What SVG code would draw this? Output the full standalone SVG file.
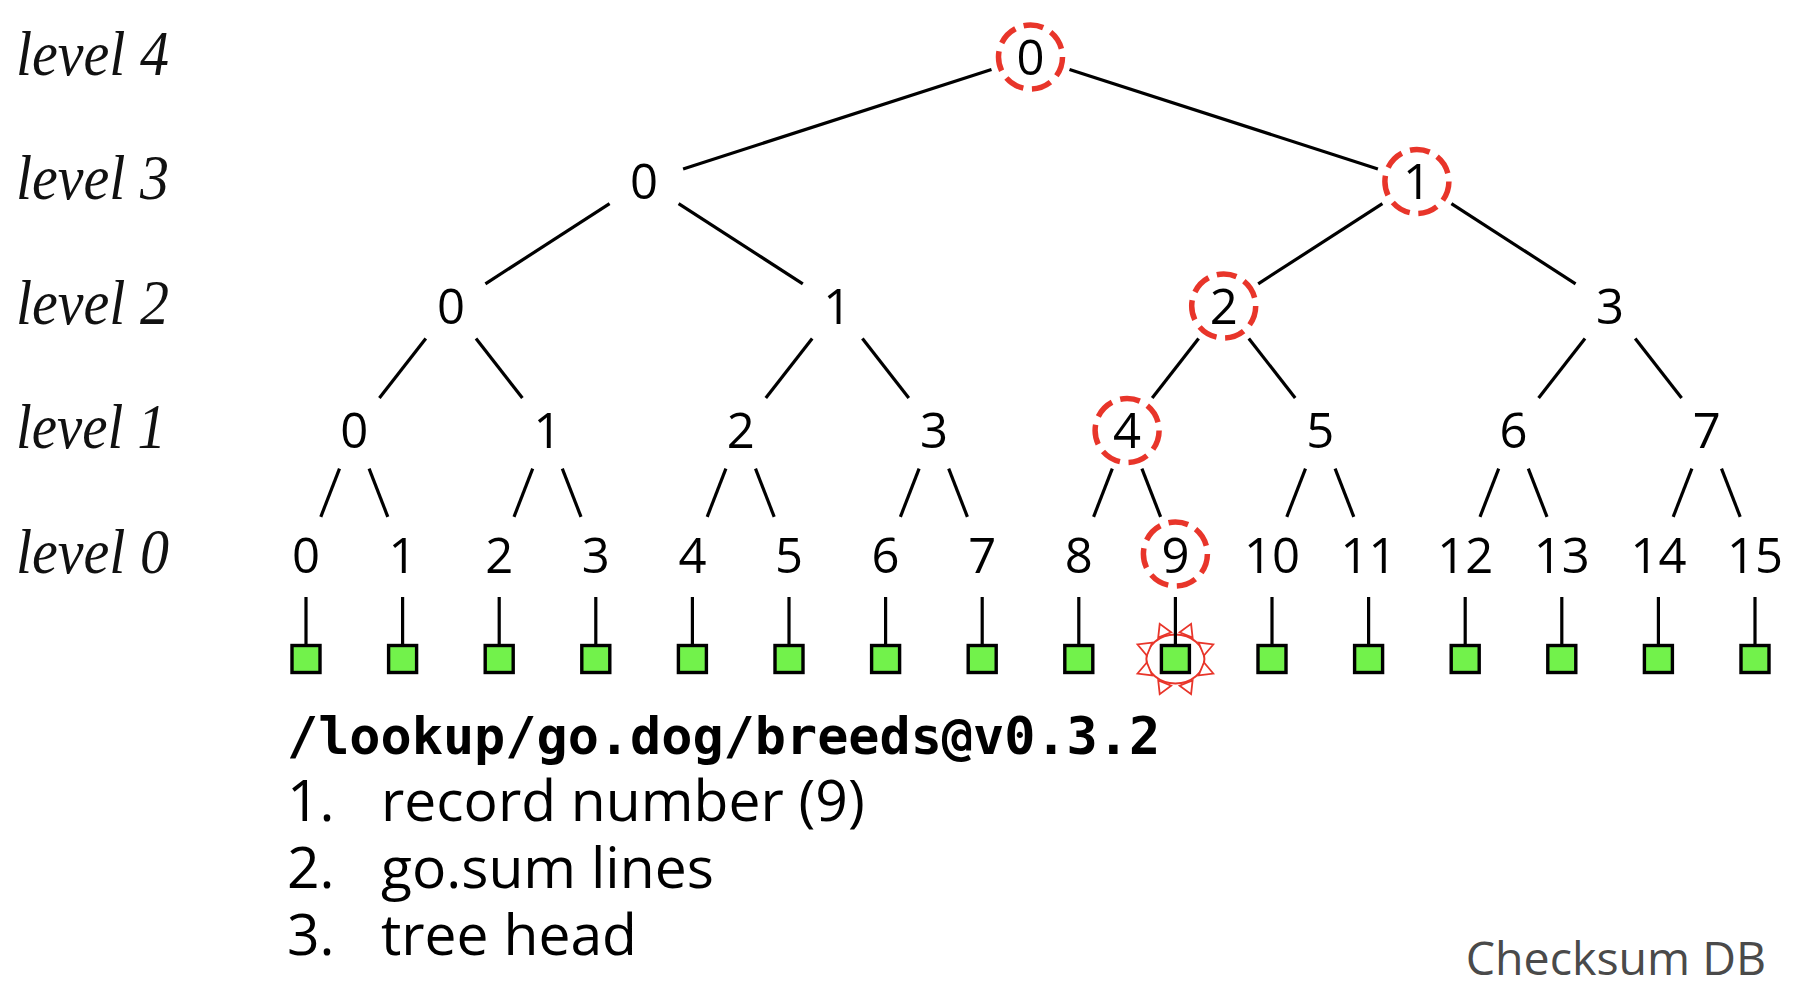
<svg xmlns="http://www.w3.org/2000/svg" width="1820" height="986" viewBox="0 0 1820 986">
<style>
.num{font-family:"Open Sans","Noto Sans",sans-serif;font-size:49px;text-anchor:middle;fill:#000}
.lvl{font-family:"Liberation Serif",serif;font-style:italic;font-size:63px;fill:#111}
.edge{stroke:#000;stroke-width:3.2;fill:none}
.hl{fill:none;stroke:#E8352A;stroke-width:5.5;stroke-dasharray:20 8.72}
.leaf{fill:#72F24B;stroke:#000;stroke-width:3.4}
.ray{fill:#fff;stroke:#E8352A;stroke-width:1.8;stroke-linejoin:miter}
.list{font-family:"Open Sans","Noto Sans",sans-serif;font-size:57px;fill:#000}
.mono{font-family:"DejaVu Sans Mono","Liberation Mono",monospace;font-weight:bold;font-size:51.8px;fill:#000}
</style>
<rect width="1820" height="986" fill="#fff"/>

<g id="level-labels">
<text class="lvl" x="16" y="74.5" textLength="153" lengthAdjust="spacingAndGlyphs">level 4</text>
<text class="lvl" x="16" y="199" textLength="153" lengthAdjust="spacingAndGlyphs">level 3</text>
<text class="lvl" x="16" y="323.5" textLength="153" lengthAdjust="spacingAndGlyphs">level 2</text>
<text class="lvl" x="16" y="448" textLength="150" lengthAdjust="spacingAndGlyphs">level 1</text>
<text class="lvl" x="16" y="572.5" textLength="153" lengthAdjust="spacingAndGlyphs">level 0</text>
</g>

<g id="sun-marker">
<ellipse cx="1175.4" cy="659" rx="29" ry="24.5" fill="none" stroke="#E8352A" stroke-width="2"/>
<polygon class="ray" points="1171.15,632.30 1159.71,623.89 1158.21,637.66"/>
<polygon class="ray" points="1192.59,637.66 1191.09,623.89 1179.65,632.30"/>
<polygon class="ray" points="1203.95,655.52 1213.28,644.46 1198.59,642.58"/>
<polygon class="ray" points="1198.59,675.42 1213.28,673.54 1203.95,662.48"/>
<polygon class="ray" points="1179.65,685.70 1191.09,694.11 1192.59,680.34"/>
<polygon class="ray" points="1158.21,680.34 1159.71,694.11 1171.15,685.70"/>
<polygon class="ray" points="1146.85,662.48 1137.52,673.54 1152.21,675.42"/>
<polygon class="ray" points="1152.21,642.58 1137.52,644.46 1146.85,655.52"/>
</g>

<g id="connectors" class="edge">
<line x1="991.5" y1="69.6" x2="683.1" y2="168.9"/>
<line x1="1069.5" y1="69.6" x2="1377.9" y2="168.9"/>
<line x1="609.6" y1="203.7" x2="485.4" y2="283.8"/>
<line x1="678.6" y1="203.7" x2="802.8" y2="283.8"/>
<line x1="1382.4" y1="203.7" x2="1258.2" y2="283.8"/>
<line x1="1451.4" y1="203.7" x2="1575.6" y2="283.8"/>
<line x1="425.8" y1="338.4" x2="379.4" y2="398.1"/>
<line x1="476.0" y1="338.4" x2="522.4" y2="398.1"/>
<line x1="812.2" y1="338.4" x2="765.8" y2="398.1"/>
<line x1="862.4" y1="338.4" x2="908.8" y2="398.1"/>
<line x1="1198.6" y1="338.4" x2="1152.2" y2="398.1"/>
<line x1="1248.8" y1="338.4" x2="1295.2" y2="398.1"/>
<line x1="1585.0" y1="338.4" x2="1538.6" y2="398.1"/>
<line x1="1635.2" y1="338.4" x2="1681.6" y2="398.1"/>
<line x1="339.5" y1="468.7" x2="320.8" y2="516.8"/>
<line x1="369.1" y1="468.7" x2="387.8" y2="516.8"/>
<line x1="532.7" y1="468.7" x2="514.0" y2="516.8"/>
<line x1="562.3" y1="468.7" x2="581.0" y2="516.8"/>
<line x1="725.9" y1="468.7" x2="707.2" y2="516.8"/>
<line x1="755.5" y1="468.7" x2="774.2" y2="516.8"/>
<line x1="919.1" y1="468.7" x2="900.4" y2="516.8"/>
<line x1="948.7" y1="468.7" x2="967.4" y2="516.8"/>
<line x1="1112.3" y1="468.7" x2="1093.6" y2="516.8"/>
<line x1="1141.9" y1="468.7" x2="1160.6" y2="516.8"/>
<line x1="1305.5" y1="468.7" x2="1286.8" y2="516.8"/>
<line x1="1335.1" y1="468.7" x2="1353.8" y2="516.8"/>
<line x1="1498.7" y1="468.7" x2="1480.0" y2="516.8"/>
<line x1="1528.3" y1="468.7" x2="1547.0" y2="516.8"/>
<line x1="1691.9" y1="468.7" x2="1673.2" y2="516.8"/>
<line x1="1721.5" y1="468.7" x2="1740.2" y2="516.8"/>
<line x1="306" y1="597" x2="306" y2="645"/>
<line x1="402.6" y1="597" x2="402.6" y2="645"/>
<line x1="499.2" y1="597" x2="499.2" y2="645"/>
<line x1="595.8" y1="597" x2="595.8" y2="645"/>
<line x1="692.4" y1="597" x2="692.4" y2="645"/>
<line x1="789" y1="597" x2="789" y2="645"/>
<line x1="885.6" y1="597" x2="885.6" y2="645"/>
<line x1="982.2" y1="597" x2="982.2" y2="645"/>
<line x1="1078.8" y1="597" x2="1078.8" y2="645"/>
<line x1="1175.4" y1="597" x2="1175.4" y2="645"/>
<line x1="1272" y1="597" x2="1272" y2="645"/>
<line x1="1368.6" y1="597" x2="1368.6" y2="645"/>
<line x1="1465.2" y1="597" x2="1465.2" y2="645"/>
<line x1="1561.8" y1="597" x2="1561.8" y2="645"/>
<line x1="1658.4" y1="597" x2="1658.4" y2="645"/>
<line x1="1755" y1="597" x2="1755" y2="645"/>
</g>

<g id="n4-0"><circle class="hl" cx="1030.5" cy="57" r="32"/><text class="num" x="1030.5" y="74.5">0</text></g>

<g id="n3-0"><text class="num" x="644.1" y="199">0</text></g>
<g id="n3-1"><circle class="hl" cx="1416.9" cy="181.5" r="32"/><text class="num" x="1416.9" y="199">1</text></g>

<g id="n2-0"><text class="num" x="450.9" y="323.5">0</text></g>
<g id="n2-1"><text class="num" x="837.3" y="323.5">1</text></g>
<g id="n2-2"><circle class="hl" cx="1223.7" cy="306" r="32"/><text class="num" x="1223.7" y="323.5">2</text></g>
<g id="n2-3"><text class="num" x="1610.1" y="323.5">3</text></g>

<g id="n1-0"><text class="num" x="354.3" y="448">0</text></g>
<g id="n1-1"><text class="num" x="547.5" y="448">1</text></g>
<g id="n1-2"><text class="num" x="740.7" y="448">2</text></g>
<g id="n1-3"><text class="num" x="933.9" y="448">3</text></g>
<g id="n1-4"><circle class="hl" cx="1127.1" cy="430.5" r="32"/><text class="num" x="1127.1" y="448">4</text></g>
<g id="n1-5"><text class="num" x="1320.3" y="448">5</text></g>
<g id="n1-6"><text class="num" x="1513.5" y="448">6</text></g>
<g id="n1-7"><text class="num" x="1706.7" y="448">7</text></g>

<g id="n0-0"><text class="num" x="306" y="572.5">0</text><rect class="leaf" x="292" y="645.5" width="28" height="27"/></g>
<g id="n0-1"><text class="num" x="402.6" y="572.5">1</text><rect class="leaf" x="388.6" y="645.5" width="28" height="27"/></g>
<g id="n0-2"><text class="num" x="499.2" y="572.5">2</text><rect class="leaf" x="485.2" y="645.5" width="28" height="27"/></g>
<g id="n0-3"><text class="num" x="595.8" y="572.5">3</text><rect class="leaf" x="581.8" y="645.5" width="28" height="27"/></g>
<g id="n0-4"><text class="num" x="692.4" y="572.5">4</text><rect class="leaf" x="678.4" y="645.5" width="28" height="27"/></g>
<g id="n0-5"><text class="num" x="789" y="572.5">5</text><rect class="leaf" x="775" y="645.5" width="28" height="27"/></g>
<g id="n0-6"><text class="num" x="885.6" y="572.5">6</text><rect class="leaf" x="871.6" y="645.5" width="28" height="27"/></g>
<g id="n0-7"><text class="num" x="982.2" y="572.5">7</text><rect class="leaf" x="968.2" y="645.5" width="28" height="27"/></g>
<g id="n0-8"><text class="num" x="1078.8" y="572.5">8</text><rect class="leaf" x="1064.8" y="645.5" width="28" height="27"/></g>
<g id="n0-9"><circle class="hl" cx="1175.4" cy="554" r="32"/><text class="num" x="1175.4" y="572.5">9</text><rect class="leaf" x="1161.4" y="645.5" width="28" height="27"/></g>
<g id="n0-10"><text class="num" x="1272" y="572.5">10</text><rect class="leaf" x="1258" y="645.5" width="28" height="27"/></g>
<g id="n0-11"><text class="num" x="1368.6" y="572.5">11</text><rect class="leaf" x="1354.6" y="645.5" width="28" height="27"/></g>
<g id="n0-12"><text class="num" x="1465.2" y="572.5">12</text><rect class="leaf" x="1451.2" y="645.5" width="28" height="27"/></g>
<g id="n0-13"><text class="num" x="1561.8" y="572.5">13</text><rect class="leaf" x="1547.8" y="645.5" width="28" height="27"/></g>
<g id="n0-14"><text class="num" x="1658.4" y="572.5">14</text><rect class="leaf" x="1644.4" y="645.5" width="28" height="27"/></g>
<g id="n0-15"><text class="num" x="1755" y="572.5">15</text><rect class="leaf" x="1741" y="645.5" width="28" height="27"/></g>

<g id="caption">
<text class="mono" x="287" y="754">/lookup/go.dog/breeds@v0.3.2</text>
<text class="list" y="821"><tspan x="287">1.</tspan><tspan x="381">record number (9)</tspan></text>
<text class="list" y="888"><tspan x="287">2.</tspan><tspan x="381">go.sum lines</tspan></text>
<text class="list" y="955"><tspan x="287">3.</tspan><tspan x="381">tree head</tspan></text>
<text x="1766" y="975" font-family="'Open Sans','Noto Sans',sans-serif" font-size="46.5" fill="#4a4a4a" text-anchor="end">Checksum DB</text>
</g>
</svg>
